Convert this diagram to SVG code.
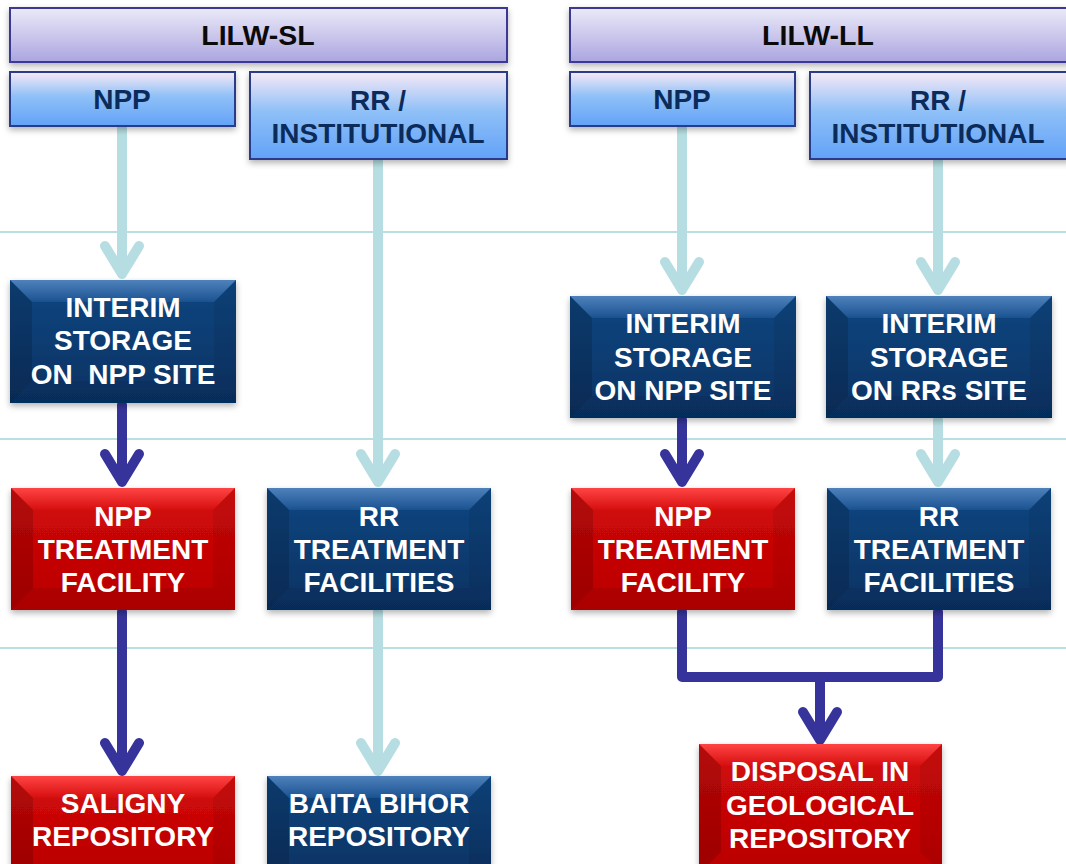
<svg xmlns="http://www.w3.org/2000/svg" width="1066" height="864" viewBox="0 0 1066 864">
<defs>
<linearGradient id="gHead" x1="0" y1="0" x2="0" y2="1"><stop offset="0" stop-color="#ebeaf8"/><stop offset="1" stop-color="#aba5e0"/></linearGradient>
<linearGradient id="gSub" x1="0" y1="0" x2="0" y2="1"><stop offset="0" stop-color="#f7e9f6"/><stop offset="0.45" stop-color="#8fc0f7"/><stop offset="1" stop-color="#62a2f8"/></linearGradient>
<linearGradient id="gBlue" x1="0" y1="0" x2="0" y2="1"><stop offset="0" stop-color="#0f4680"/><stop offset="1" stop-color="#063263"/></linearGradient>
<linearGradient id="gRed" x1="0" y1="0" x2="0" y2="1"><stop offset="0" stop-color="#d40a0a"/><stop offset="1" stop-color="#b80000"/></linearGradient>
<linearGradient id="gTopB" x1="0" y1="0" x2="0" y2="1"><stop offset="0" stop-color="#4f82bc"/><stop offset="1" stop-color="#1a5290"/></linearGradient>
<linearGradient id="gTopR" x1="0" y1="0" x2="0" y2="1"><stop offset="0" stop-color="#ff4444"/><stop offset="1" stop-color="#d60e0e"/></linearGradient>
<filter id="sh" x="-10%" y="-10%" width="120%" height="130%"><feDropShadow dx="0" dy="3" stdDeviation="3" flood-color="#000" flood-opacity="0.3"/></filter>
</defs>
<style>
.sep{stroke:#b8e0e4;stroke-width:2}
.hd{fill:url(#gHead);stroke:#3a3896;stroke-width:2}
.sb{fill:url(#gSub);stroke:#2c3a8a;stroke-width:2}
.bb{fill:url(#gBlue)}
.rb{fill:url(#gRed)}
.tb{fill:url(#gTopB)}
.tr{fill:url(#gTopR)}
.sd{fill:#000;opacity:0.15}
.sd2{fill:#000;opacity:0.07}
.lt{fill:none;stroke:#b6dee2;stroke-width:10;stroke-linecap:round;stroke-linejoin:round}
.dk{fill:none;stroke:#36349a;stroke-width:10;stroke-linecap:round;stroke-linejoin:round}
text{font-family:"Liberation Sans",Arial,sans-serif;font-weight:bold;text-anchor:middle}
.th{font-size:28.5px;fill:#0a0a0a}
.ts{font-size:28px;fill:#0b2c5a}
.tw{font-size:28px;fill:#ffffff}
</style>
<g id="separators">
<line class="sep" x1="0" y1="232" x2="1066" y2="232"/>
<line class="sep" x1="0" y1="439" x2="1066" y2="439"/>
<line class="sep" x1="0" y1="648" x2="1066" y2="648"/>
</g>
<g id="connectors">
<path class="lt" d="M122,128 V274 M105,246 L122,274 L139,246"/>
<path class="lt" d="M378,161 V482 M361,454 L378,482 L395,454"/>
<path class="lt" d="M378,612 V771 M361,743 L378,771 L395,743"/>
<path class="lt" d="M682,128 V290 M665,262 L682,290 L699,262"/>
<path class="lt" d="M938,161 V290 M921,262 L938,290 L955,262"/>
<path class="lt" d="M938,420 V482 M921,454 L938,482 L955,454"/>
<path class="dk" d="M122,405 V482 M105,454 L122,482 L139,454"/>
<path class="dk" d="M122,612 V771 M105,743 L122,771 L139,743"/>
<path class="dk" d="M682,420 V482 M665,454 L682,482 L699,454"/>
<path class="dk" d="M682,612 V677 H938 V612"/>
<path class="dk" d="M820,677 V740 M803,712 L820,740 L837,712"/>
</g>
<g id="lilw-sl"><rect class="hd" x="10" y="8" width="497" height="54" filter="url(#sh)"/><text class="th" x="258" y="45">LILW-SL</text></g>
<g id="lilw-ll"><rect class="hd" x="570" y="8" width="500" height="54" filter="url(#sh)"/><text class="th" x="818" y="45">LILW-LL</text></g>
<g id="npp-sl"><rect class="sb" x="10" y="72" width="225" height="54" filter="url(#sh)"/><text class="ts" x="122" y="109">NPP</text></g>
<g id="rr-sl"><rect class="sb" x="250" y="72" width="257" height="87" filter="url(#sh)"/><text class="ts" x="378" y="110">RR /</text><text class="ts" x="378" y="143">INSTITUTIONAL</text></g>
<g id="npp-ll"><rect class="sb" x="570" y="72" width="225" height="54" filter="url(#sh)"/><text class="ts" x="682" y="109">NPP</text></g>
<g id="rr-ll"><rect class="sb" x="810" y="72" width="260" height="87" filter="url(#sh)"/><text class="ts" x="938" y="110">RR /</text><text class="ts" x="938" y="143">INSTITUTIONAL</text></g>

<g id="interim-sl">
<rect class="bb" x="10" y="280" width="226" height="123" filter="url(#sh)"/>
<polygon class="tb" points="10,280 236,280 214,302 32,302"/>
<polygon class="sd" points="10,280 32,302 32,381 10,403"/>
<polygon class="sd2" points="236,280 214,302 214,381 236,403"/>
<polygon class="sd2" points="10,403 32,381 214,381 236,403"/>
<text class="tw" x="123" y="317">INTERIM</text><text class="tw" x="123" y="350">STORAGE</text><text class="tw" x="123" y="384" xml:space="preserve">ON  NPP SITE</text>
</g>
<g id="interim-npp-ll">
<rect class="bb" x="570" y="296" width="226" height="122" filter="url(#sh)"/>
<polygon class="tb" points="570,296 796,296 774,318 592,318"/>
<polygon class="sd" points="570,296 592,318 592,396 570,418"/>
<polygon class="sd2" points="796,296 774,318 774,396 796,418"/>
<polygon class="sd2" points="570,418 592,396 774,396 796,418"/>
<text class="tw" x="683" y="333">INTERIM</text><text class="tw" x="683" y="367">STORAGE</text><text class="tw" x="683" y="400">ON NPP SITE</text>
</g>
<g id="interim-rr-ll">
<rect class="bb" x="826" y="296" width="226" height="122" filter="url(#sh)"/>
<polygon class="tb" points="826,296 1052,296 1030,318 848,318"/>
<polygon class="sd" points="826,296 848,318 848,396 826,418"/>
<polygon class="sd2" points="1052,296 1030,318 1030,396 1052,418"/>
<polygon class="sd2" points="826,418 848,396 1030,396 1052,418"/>
<text class="tw" x="939" y="333">INTERIM</text><text class="tw" x="939" y="367">STORAGE</text><text class="tw" x="939" y="400">ON RRs SITE</text>
</g>

<g id="npp-treat-sl">
<rect class="rb" x="11" y="488" width="224" height="122" filter="url(#sh)"/>
<polygon class="tr" points="11,488 235,488 213,510 33,510"/>
<polygon class="sd" points="11,488 33,510 33,588 11,610"/>
<polygon class="sd2" points="235,488 213,510 213,588 235,610"/>
<polygon class="sd2" points="11,610 33,588 213,588 235,610"/>
<text class="tw" x="123" y="526">NPP</text><text class="tw" x="123" y="559">TREATMENT</text><text class="tw" x="123" y="592">FACILITY</text>
</g>
<g id="rr-treat-sl">
<rect class="bb" x="267" y="488" width="224" height="122" filter="url(#sh)"/>
<polygon class="tb" points="267,488 491,488 469,510 289,510"/>
<polygon class="sd" points="267,488 289,510 289,588 267,610"/>
<polygon class="sd2" points="491,488 469,510 469,588 491,610"/>
<polygon class="sd2" points="267,610 289,588 469,588 491,610"/>
<text class="tw" x="379" y="526">RR</text><text class="tw" x="379" y="559">TREATMENT</text><text class="tw" x="379" y="592">FACILITIES</text>
</g>
<g id="npp-treat-ll">
<rect class="rb" x="571" y="488" width="224" height="122" filter="url(#sh)"/>
<polygon class="tr" points="571,488 795,488 773,510 593,510"/>
<polygon class="sd" points="571,488 593,510 593,588 571,610"/>
<polygon class="sd2" points="795,488 773,510 773,588 795,610"/>
<polygon class="sd2" points="571,610 593,588 773,588 795,610"/>
<text class="tw" x="683" y="526">NPP</text><text class="tw" x="683" y="559">TREATMENT</text><text class="tw" x="683" y="592">FACILITY</text>
</g>
<g id="rr-treat-ll">
<rect class="bb" x="827" y="488" width="224" height="122" filter="url(#sh)"/>
<polygon class="tb" points="827,488 1051,488 1029,510 849,510"/>
<polygon class="sd" points="827,488 849,510 849,588 827,610"/>
<polygon class="sd2" points="1051,488 1029,510 1029,588 1051,610"/>
<polygon class="sd2" points="827,610 849,588 1029,588 1051,610"/>
<text class="tw" x="939" y="526">RR</text><text class="tw" x="939" y="559">TREATMENT</text><text class="tw" x="939" y="592">FACILITIES</text>
</g>

<g id="saligny">
<rect class="rb" x="11" y="776" width="224" height="100" filter="url(#sh)"/>
<polygon class="tr" points="11,776 235,776 213,798 33,798"/>
<polygon class="sd" points="11,776 33,798 33,876 11,898"/>
<polygon class="sd2" points="235,776 213,798 213,876 235,898"/>
<text class="tw" x="123" y="813">SALIGNY</text><text class="tw" x="123" y="846">REPOSITORY</text>
</g>
<g id="baita-bihor">
<rect class="bb" x="267" y="776" width="224" height="100" filter="url(#sh)"/>
<polygon class="tb" points="267,776 491,776 469,798 289,798"/>
<polygon class="sd" points="267,776 289,798 289,876 267,898"/>
<polygon class="sd2" points="491,776 469,798 469,876 491,898"/>
<text class="tw" x="379" y="813">BAITA BIHOR</text><text class="tw" x="379" y="846">REPOSITORY</text>
</g>
<g id="disposal">
<rect class="rb" x="699" y="744" width="243" height="130" filter="url(#sh)"/>
<polygon class="tr" points="699,744 942,744 920,766 721,766"/>
<polygon class="sd" points="699,744 721,766 721,852 699,874"/>
<polygon class="sd2" points="942,744 920,766 920,852 942,874"/>
<text class="tw" x="820" y="781">DISPOSAL IN</text><text class="tw" x="820" y="815">GEOLOGICAL</text><text class="tw" x="820" y="848">REPOSITORY</text>
</g>
</svg>
